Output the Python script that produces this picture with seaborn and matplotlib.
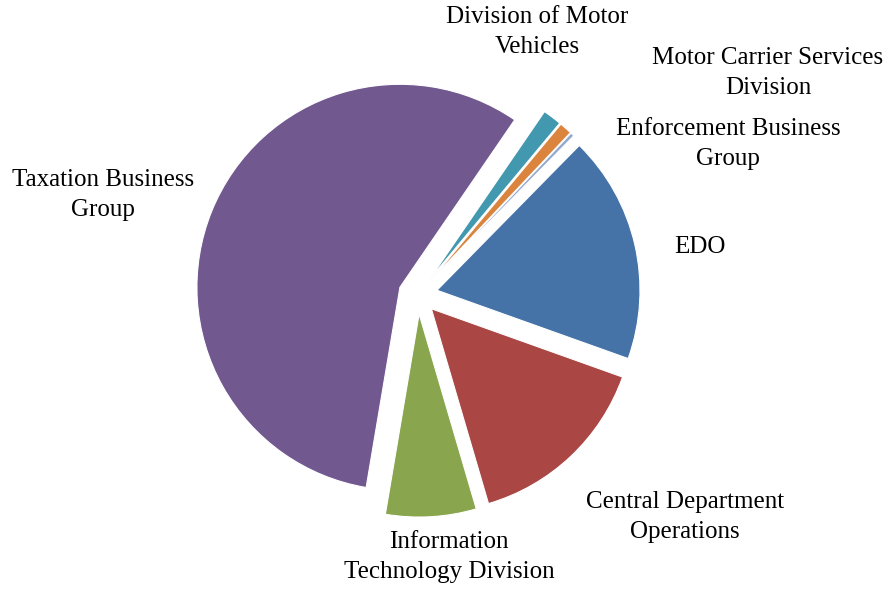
import matplotlib
matplotlib.use("Agg")
import matplotlib.pyplot as plt
import seaborn as sns

# Share of spending by business group (percent)
groups = [
    "EDO",
    "Central Department\nOperations",
    "Information\nTechnology Division",
    "Taxation Business\nGroup",
    "Division of Motor\nVehicles",
    "Motor Carrier Services\nDivision",
    "Enforcement Business\nGroup",
]
shares = [18.1, 15.0, 7.2, 56.9, 1.5, 1.0, 0.3]
colors = ["#4572A7", "#AA4643", "#89A54E", "#71588F", "#4198AF", "#DB843D", "#93A9CF"]

# Label anchor points (figure pixels, origin top-left)
label_x = [700, 685, 449, 103, 537, 768, 728]
label_y = [247, 517, 557, 195, 32, 73, 144]

sns.set_theme(style="white")
plt.rcParams["font.family"] = ["Liberation Serif", "DejaVu Serif"]

W, H = 894, 590
RADIUS = 203
fig = plt.figure(figsize=(W / 100, H / 100), dpi=100)
ax = fig.add_axes([0, 0, 1, 1])

palette = sns.color_palette(colors)
ax.pie(
    shares,
    colors=palette,
    startangle=45.5,
    counterclock=False,
    explode=[0.096 * RADIUS] * len(shares),
    radius=RADIUS,
    center=(418, H - 294.6),
    wedgeprops=dict(edgecolor="white", linewidth=0.8),
    frame=True,
)
ax.set_xlim(0, W)
ax.set_ylim(0, H)
ax.set_aspect("equal")
ax.axis("off")

for name, x, y in zip(groups, label_x, label_y):
    ax.text(x, H - y, name, ha="center", va="center", fontsize=18,
            color="black", linespacing=1.5)

fig.savefig("out.png", dpi=100, facecolor="white")
